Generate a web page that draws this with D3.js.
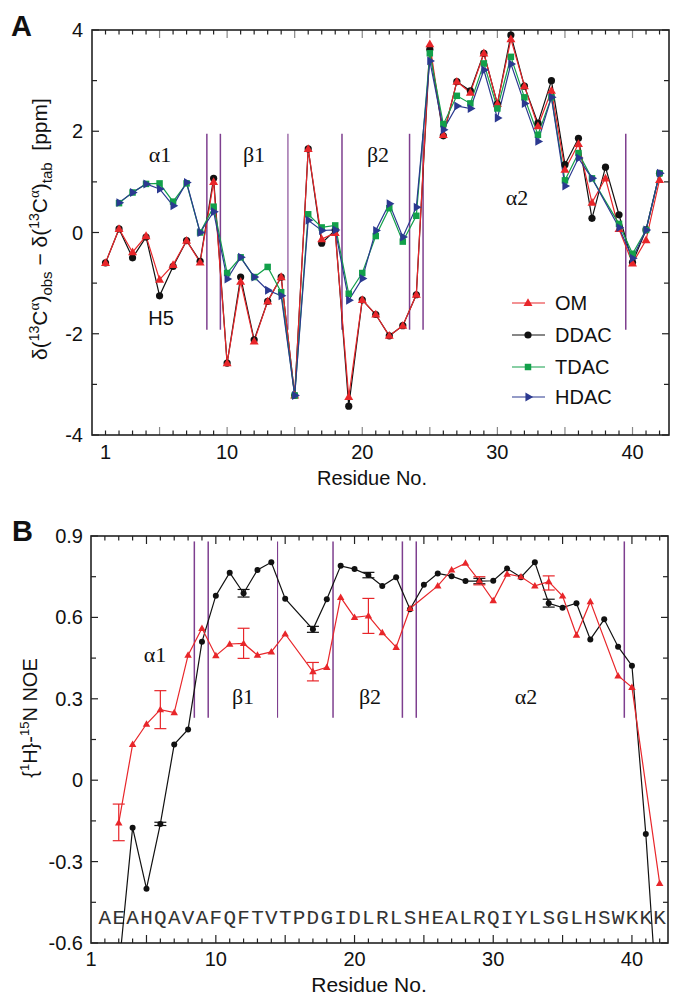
<!DOCTYPE html>
<html><head><meta charset="utf-8">
<script src="https://cdn.jsdelivr.net/npm/d3@7/dist/d3.min.js"></script>
<style>body{margin:0;background:#fff}svg{display:block}</style>
</head><body>
<svg id="c" width="674" height="996"></svg>
<script>
// ---------- DATA ----------
const residuesA = d3.range(1, 43);
const omA   = [-0.6,0.07,-0.39,-0.07,-0.93,-0.64,-0.16,-0.59,1.0,-2.58,-0.97,-2.15,-1.36,-0.88,-3.22,1.65,-0.13,-0.01,-3.25,-1.33,-1.62,-2.04,-1.84,-1.23,3.72,1.93,2.98,2.76,3.54,2.54,3.82,2.89,2.1,2.8,1.24,1.75,0.59,1.07,0.07,-0.61,-0.15,1.04];
const ddacA = [-0.6,0.07,-0.5,-0.09,-1.25,-0.67,-0.16,-0.57,1.07,-2.58,-0.88,-2.12,-1.36,-0.88,-3.22,1.65,-0.21,0.05,-3.43,-1.33,-1.62,-2.04,-1.84,-1.23,3.62,1.91,2.98,2.8,3.54,2.54,3.9,2.89,2.16,3.0,1.34,1.86,0.28,1.29,0.35,-0.59,0.05,1.17];
const tdacA = [null,0.58,0.79,0.96,0.97,0.61,0.97,0.0,0.51,-0.8,-0.49,-0.88,-0.68,-1.18,-3.22,0.36,0.1,0.14,-1.21,-0.8,-0.07,0.48,-0.18,0.33,3.54,2.14,2.7,2.55,3.34,2.45,3.47,2.67,1.93,2.67,1.03,1.57,1.07,null,0.17,-0.42,0.05,1.17];
const hdacA = [null,0.59,0.79,0.96,0.86,0.53,0.99,0.0,0.41,-0.92,-0.49,-0.88,-1.14,-1.25,-3.22,0.24,0.04,0.05,-1.34,-0.91,0.04,0.57,-0.09,0.5,3.39,2.03,2.5,2.45,3.21,2.26,3.33,2.55,1.8,2.67,0.92,1.47,1.07,null,0.1,-0.51,0.05,1.17];

const residuesB = d3.range(1, 43);
const omB   = [null,null,-0.157,0.132,0.207,0.26,0.249,0.461,0.56,0.459,0.502,0.504,0.461,0.473,0.539,null,0.4,0.416,0.674,0.6,0.606,0.544,0.49,0.633,null,0.716,0.775,0.8,0.735,0.662,0.76,0.75,0.716,0.732,0.679,0.535,0.658,null,0.385,0.342,null,-0.38];
const ddacB = [null,null,-0.70,-0.175,-0.40,-0.161,0.132,0.187,0.51,0.68,0.765,0.689,0.775,0.803,0.669,null,0.556,0.667,0.79,0.778,0.756,0.716,0.748,0.63,0.72,0.762,0.752,0.734,0.734,0.735,0.78,0.748,0.803,0.652,0.636,0.652,0.519,0.593,0.492,0.422,-0.198,-0.96];
const omErrRes = [3,6,12,17,21,29,34];
const omErrLo  = [-0.223,0.19,0.449,0.366,0.541,0.72,0.701];
const omErrHi  = [-0.088,0.33,0.56,0.434,0.67,0.75,0.753];
const ddErrRes = [6,12,17,21,29,34];
const ddErrLo  = [-0.167,0.675,0.545,0.746,0.724,0.638];
const ddErrHi  = [-0.155,0.703,0.567,0.766,0.744,0.667];

const boundaries = [8.5,9.5,14.5,18.5,23.5,24.5,39.5];
const sequence = "AEAHQAVAFQFTVTPDGIDLRLSHEALRQIYLSGLHSWKKK"; // residues 2..42
const xTickLabels = [1,10,20,30,40];
const yTicksA = [-4,-2,0,2,4];
const yTicksB = [-0.6,-0.3,0,0.3,0.6,0.9];
const seriesNames = ["OM","DDAC","TDAC","HDAC"];

// ---------- STYLE ----------
const colors = {OM:"#e8262a", DDAC:"#111111", TDAC:"#12a04a", HDAC:"#2b3990"};
const purple = "#7e3f8f";
const sans = "'Liberation Sans', Arial, Helvetica, sans-serif";
const serif = "'Liberation Serif', 'Times New Roman', serif";

const svg = d3.select("#c");

function marker(g, type, x, y, color, s) {
  if (type === "OM") {
    g.append("path").attr("d", d3.symbol(d3.symbolTriangle, s*s*0.43)()).attr("transform", `translate(${x},${y+0.5})`).attr("fill", color);
  } else if (type === "DDAC") {
    g.append("circle").attr("cx", x).attr("cy", y).attr("r", s*0.4).attr("fill", color);
  } else if (type === "TDAC") {
    g.append("rect").attr("x", x-s*0.36).attr("y", y-s*0.36).attr("width", s*0.72).attr("height", s*0.72).attr("fill", color);
  } else {
    g.append("path").attr("d", d3.symbol(d3.symbolTriangle, s*s*0.43)()).attr("transform", `translate(${x},${y}) rotate(90)`).attr("fill", color);
  }
}

function frameAndTicks(x, y, top, bottom, left, right, xMinor, xMajor, yMinor, yMajor, majorColor) {
  const g = svg.append("g");
  xMinor.forEach(v => {
    const isMaj = xMajor.includes(v);
    const len = isMaj ? 8 : 4.5;
    const col = isMaj ? majorColor : "#222";
    g.append("line").attr("x1", x(v)).attr("x2", x(v)).attr("y1", bottom).attr("y2", bottom-len).attr("stroke", col).attr("stroke-width", 1.2);
    g.append("line").attr("x1", x(v)).attr("x2", x(v)).attr("y1", top).attr("y2", top+len).attr("stroke", col).attr("stroke-width", 1.2);
  });
  yMinor.forEach(v => {
    const isMaj = yMajor.some(m => Math.abs(m - v) < 1e-6);
    const len = isMaj ? 7 : 5;
    g.append("line").attr("x1", left).attr("x2", left+len).attr("y1", y(v)).attr("y2", y(v)).attr("stroke", "#222").attr("stroke-width", 1.2);
    g.append("line").attr("x1", right).attr("x2", right-len).attr("y1", y(v)).attr("y2", y(v)).attr("stroke", "#222").attr("stroke-width", 1.2);
  });
  g.append("rect").attr("x", left).attr("y", top).attr("width", right-left).attr("height", bottom-top)
    .attr("fill", "none").attr("stroke", "#222").attr("stroke-width", 1.6);
}

// ================= PANEL A =================
const xA = d3.scaleLinear().domain([0, 42.7]).range([92, 669]);
const yA = d3.scaleLinear().domain([-4, 4]).range([435, 30]);

frameAndTicks(xA, yA, 30, 435, 92, 669, d3.range(1, 43), d3.range(5, 43, 5), d3.range(-4, 4.01, 1), yTicksA, "#888");

boundaries.forEach(b => {
  svg.append("line").attr("x1", xA(b)).attr("x2", xA(b)).attr("y1", yA(1.95)).attr("y2", yA(-1.92))
    .attr("stroke", purple).attr("stroke-width", b === 14.5 ? 1.1 : 1.5);
});

yTicksA.forEach(v => {
  svg.append("text").attr("x", 83).attr("y", yA(v)+7).attr("text-anchor", "end")
    .attr("font-family", sans).attr("font-size", 20).attr("fill", "#111").text(v < 0 ? "-" + Math.abs(v) : v);
});
xTickLabels.forEach(v => {
  svg.append("text").attr("x", xA(v)).attr("y", 459).attr("text-anchor", "middle")
    .attr("font-family", sans).attr("font-size", 20).attr("fill", "#111").text(v);
});
svg.append("text").attr("x", 372).attr("y", 485).attr("text-anchor", "middle")
  .attr("font-family", sans).attr("font-size", 20).attr("fill", "#111").text("Residue No.");

const tA = svg.append("text").attr("transform", "translate(47,229) rotate(-90)").attr("text-anchor", "middle")
  .attr("font-family", sans).attr("font-size", 21).attr("fill", "#111");
tA.append("tspan").text("δ(");
tA.append("tspan").attr("font-size", 14).attr("dy", -8).text("13");
tA.append("tspan").attr("dy", 8).text("C");
tA.append("tspan").attr("font-size", 15).attr("font-family", serif).attr("dy", -8).text("α");
tA.append("tspan").attr("dy", 8).text(")");
tA.append("tspan").attr("font-size", 15).attr("dy", 5).text("obs");
tA.append("tspan").attr("dy", -5).text(" − δ(");
tA.append("tspan").attr("font-size", 14).attr("dy", -8).text("13");
tA.append("tspan").attr("dy", 8).text("C");
tA.append("tspan").attr("font-size", 15).attr("font-family", serif).attr("dy", -8).text("α");
tA.append("tspan").attr("dy", 8).text(")");
tA.append("tspan").attr("font-size", 15).attr("dy", 5).text("tab");
tA.append("tspan").attr("dy", -5).attr("xml:space", "preserve").text("\u00a0 [ppm]");

[["α1",160,162],["β1",254,162],["β2",378,162],["α2",517,205]].forEach(d => {
  svg.append("text").attr("x", d[1]).attr("y", d[2]).attr("text-anchor", "middle")
    .attr("font-family", serif).attr("font-size", 22).attr("fill", "#111").text(d[0]);
});
svg.append("text").attr("x", 161).attr("y", 325).attr("text-anchor", "middle")
  .attr("font-family", sans).attr("font-size", 20).attr("fill", "#111").text("H5");

const seriesA = {OM: omA, DDAC: ddacA, TDAC: tdacA, HDAC: hdacA};
const drawOrderA = ["DDAC","OM","TDAC","HDAC"];
drawOrderA.forEach(name => {
  const pts = residuesA.map((r,i) => [r, seriesA[name][i]]).filter(p => p[1] !== null);
  svg.append("path").datum(pts).attr("fill", "none").attr("stroke", colors[name]).attr("stroke-width", 1.2)
    .attr("d", d3.line().x(p => xA(p[0])).y(p => yA(p[1])));
});
drawOrderA.forEach(name => {
  const g = svg.append("g");
  residuesA.forEach((r,i) => {
    const v = seriesA[name][i];
    if (v !== null) marker(g, name, xA(r), yA(v), colors[name], 9);
  });
});

const legY = [303, 335, 367, 397];
seriesNames.forEach((name, i) => {
  const g = svg.append("g");
  g.append("line").attr("x1", 512).attr("x2", 545).attr("y1", legY[i]).attr("y2", legY[i]).attr("stroke", colors[name]).attr("stroke-width", 1.2);
  marker(g, name, 528, legY[i], colors[name], 9);
  g.append("text").attr("x", 555).attr("y", legY[i]+7).attr("font-family", sans).attr("font-size", 20).attr("fill", "#111").text(name);
});

svg.append("text").attr("x", 11).attr("y", 36).attr("font-family", sans).attr("font-weight", "bold").attr("font-size", 29).attr("fill", "#111").text("A");

// ================= PANEL B =================
const xB = d3.scaleLinear().domain([1, 42.6]).range([91, 668]);
const yB = d3.scaleLinear().domain([-0.6, 0.9]).range([943, 536]);

frameAndTicks(xB, yB, 536, 943, 91, 668, d3.range(2, 43), d3.range(5, 43, 5), d3.range(-0.6, 0.91, 0.15).map(v => +v.toFixed(2)), yTicksB, "#222");

boundaries.forEach(b => {
  svg.append("line").attr("x1", xB(b-0.05)).attr("x2", xB(b-0.05)).attr("y1", yB(0.88)).attr("y2", yB(0.23))
    .attr("stroke", purple).attr("stroke-width", b === 14.5 ? 1.1 : 1.5);
});

yTicksB.forEach(v => {
  const lbl = v === 0 ? "0" : (v < 0 ? "-" + Math.abs(v).toFixed(1) : v.toFixed(1));
  svg.append("text").attr("x", 83).attr("y", yB(v)+7).attr("text-anchor", "end")
    .attr("font-family", sans).attr("font-size", 20).attr("fill", "#111").text(lbl);
});
xTickLabels.forEach(v => {
  svg.append("text").attr("x", xB(v)).attr("y", 966).attr("text-anchor", "middle")
    .attr("font-family", sans).attr("font-size", 20).attr("fill", "#111").text(v);
});
svg.append("text").attr("x", 369).attr("y", 992).attr("text-anchor", "middle")
  .attr("font-family", sans).attr("font-size", 21).attr("fill", "#111").text("Residue No.");

const tB = svg.append("text").attr("transform", "translate(37,718) rotate(-90)").attr("text-anchor", "middle")
  .attr("font-family", sans).attr("font-size", 20).attr("fill", "#111");
tB.append("tspan").text("{");
tB.append("tspan").attr("font-size", 13).attr("dy", -8).text("1");
tB.append("tspan").attr("dy", 8).text("H}-");
tB.append("tspan").attr("font-size", 13).attr("dy", -8).text("15");
tB.append("tspan").attr("dy", 8).text("N NOE");

[["α1",155,662],["β1",243,704],["β2",370,704],["α2",526,704]].forEach(d => {
  svg.append("text").attr("x", d[1]).attr("y", d[2]).attr("text-anchor", "middle")
    .attr("font-family", serif).attr("font-size", 22).attr("fill", "#111").text(d[0]);
});

sequence.split("").forEach((ch, i) => {
  svg.append("text").attr("x", xB(i+2)).attr("y", 924).attr("text-anchor", "middle")
    .attr("font-family", "'Liberation Mono', 'DejaVu Sans Mono', monospace").attr("font-size", 21).attr("fill", "#333").text(ch);
});

svg.append("clipPath").attr("id", "clipB").append("rect").attr("x", 91).attr("y", 536).attr("width", 577).attr("height", 407);
const gB = svg.append("g").attr("clip-path", "url(#clipB)");

const seriesB = {DDAC: ddacB, OM: omB};
["DDAC","OM"].forEach(name => {
  const pts = residuesB.map((r,i) => [r, seriesB[name][i]]).filter(p => p[1] !== null);
  gB.append("path").datum(pts).attr("fill", "none").attr("stroke", colors[name]).attr("stroke-width", 1.2)
    .attr("d", d3.line().x(p => xB(p[0])).y(p => yB(p[1])));
});
function errBars(resArr, lo, hi, color) {
  resArr.forEach((r, i) => {
    const x = xB(r);
    gB.append("line").attr("x1", x).attr("x2", x).attr("y1", yB(lo[i])).attr("y2", yB(hi[i])).attr("stroke", color).attr("stroke-width", 1.2);
    [lo[i], hi[i]].forEach(v => gB.append("line").attr("x1", x-6).attr("x2", x+6).attr("y1", yB(v)).attr("y2", yB(v)).attr("stroke", color).attr("stroke-width", 1.2));
  });
}
errBars(ddErrRes, ddErrLo, ddErrHi, colors.DDAC);
errBars(omErrRes, omErrLo, omErrHi, colors.OM);
["DDAC","OM"].forEach(name => {
  residuesB.forEach((r,i) => {
    const v = seriesB[name][i];
    if (v !== null) marker(gB, name, xB(r), yB(v), colors[name], 7.5);
  });
});

svg.append("text").attr("x", 12).attr("y", 541).attr("font-family", sans).attr("font-weight", "bold").attr("font-size", 29).attr("fill", "#111").text("B");
</script>
</body></html>
